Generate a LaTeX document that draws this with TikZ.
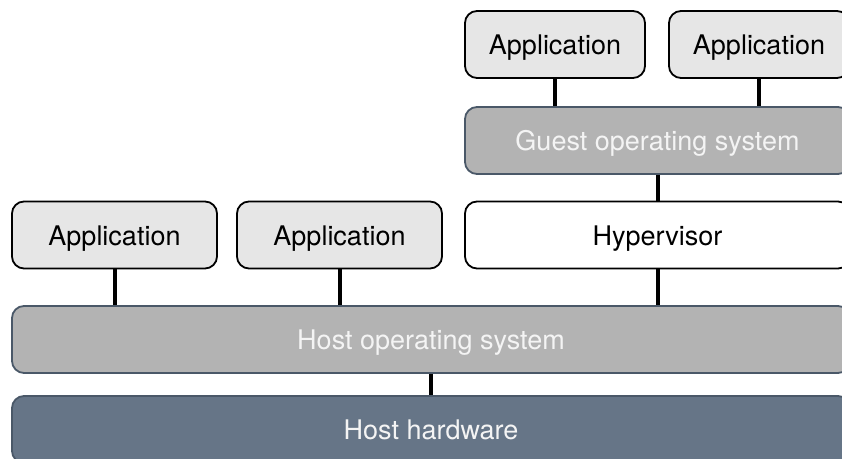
\documentclass[tikz,border=0pt]{standalone}
\usepackage{fontspec}
\setmainfont{TeX Gyre Heros}
\usepackage{tikz}
\usetikzlibrary{positioning, calc}

\definecolor{appgray}{HTML}{E6E6E6}
\definecolor{osgray}{HTML}{B3B3B3}
\definecolor{hwslate}{HTML}{667587}
\definecolor{edgeslate}{HTML}{4A5868}
\definecolor{softwhite}{HTML}{F4F4F4}

\begin{document}
\begin{tikzpicture}[x=0.5pt,y=-0.5pt,
  layer/.style={draw, rounded corners=6pt, line width=0.9pt,
    inner sep=0pt, minimum height=33.5pt, text height=10.5pt, text depth=0pt,
    font=\fontsize{13.5}{16}\selectfont},
  appbox/.style={layer, fill=appgray, draw=black},
  hvbox/.style={layer, fill=white, draw=black},
  osbox/.style={layer, fill=osgray, draw=edgeslate, text=softwhite},
  hwbox/.style={layer, fill=hwslate, draw=edgeslate, text=softwhite},
  link/.style={line width=2pt}]
\clip (0,0) rectangle (842,459);
\fill[white] (0,0) rectangle (842,459);

% guest side
\node[appbox, minimum width=90pt] (gapp1) at (555,44.5) {Application};
\node[appbox, minimum width=90pt] (gapp2) at (759,44.5) {Application};
\node[osbox, minimum width=192.5pt] (guestos) at (657.5,140.5) {Guest operating system};
\node[hvbox, minimum width=192.5pt] (hyper) at (657.5,235) {Hypervisor};

% host side
\node[appbox, minimum width=102.5pt] (happ1) at (114.5,235) {Application};
\node[appbox, minimum width=102.5pt] (happ2) at (339.5,235) {Application};
\node[osbox, minimum width=419pt] (hostos) at (431,339.5) {Host operating system};
\node[hwbox, minimum width=419pt] (hosthw) at (431,429.5) {Host hardware};

% links between layers
\draw[link] (gapp1.south) -- (gapp1.south |- guestos.north);
\draw[link] (gapp2.south) -- (gapp2.south |- guestos.north);
\draw[link] (guestos.south) -- (hyper.north);
\draw[link] (happ1.south) -- (happ1.south |- hostos.north);
\draw[link] (happ2.south) -- (happ2.south |- hostos.north);
\draw[link] (hyper.south) -- (hyper.south |- hostos.north);
\draw[link] (hostos.south) -- (hosthw.north);
\end{tikzpicture}
\end{document}
